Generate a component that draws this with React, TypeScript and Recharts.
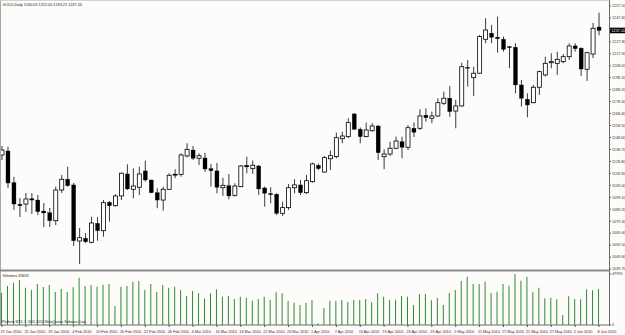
import React from 'react';
import { Bar, BarChart, ComposedChart, ReferenceLine, XAxis, YAxis } from 'recharts';

// GOLD daily, 19 Jan 2010 .. 8 Jun 2010 (one value per trading day)
const OPEN = [
  1134.1, 1137.4, 1111.2, 1093.3, 1093.5, 1097.9, 1096.8, 1087.7, 1086.3, 1079.7,
  1105.1, 1114.0, 1109.3, 1062.9, 1065.1, 1061.8, 1077.5, 1071.4, 1094.9, 1092.1,
  1100.2, 1118.4, 1105.7, 1107.4, 1120.9, 1113.4, 1102.9, 1096.8, 1105.7, 1117.5,
  1118.1, 1133.3, 1138.2, 1131.4, 1131.6, 1122.8, 1120.9, 1107.0, 1108.7, 1100.7,
  1107.9, 1125.6, 1122.8, 1125.0, 1106.8, 1102.1, 1101.6, 1085.8, 1090.5, 1107.0,
  1109.3, 1102.9, 1112.0, 1125.6, 1120.0, 1131.0, 1132.7, 1147.6, 1149.3, 1168.1,
  1155.4, 1149.3, 1154.2, 1158.1, 1132.7, 1134.9, 1139.7, 1145.1, 1140.5, 1156.2,
  1156.2, 1167.0, 1164.5, 1166.4, 1176.9, 1181.1, 1170.5, 1174.7, 1206.7, 1198.1,
  1201.8, 1229.9, 1234.9, 1231.6, 1229.9, 1223.8, 1223.3, 1192.1, 1180.2, 1177.4,
  1190.2, 1200.4, 1210.5, 1210.0, 1211.4, 1215.5, 1224.4, 1222.5, 1205.1, 1217.7,
  1240.05,
];
const HIGH = [
  1141.6, 1141.0, 1116.1, 1098.5, 1102.6, 1102.6, 1101.0, 1094.4, 1090.2, 1107.9,
  1117.5, 1124.4, 1110.9, 1073.7, 1069.5, 1083.0, 1082.8, 1096.8, 1096.0, 1101.6,
  1119.5, 1126.4, 1123.1, 1124.4, 1129.4, 1113.6, 1106.5, 1107.9, 1119.0, 1122.3,
  1135.5, 1143.8, 1141.6, 1135.5, 1135.8, 1126.7, 1127.5, 1115.1, 1118.4, 1110.7,
  1125.8, 1132.7, 1129.4, 1125.8, 1107.9, 1107.4, 1102.4, 1095.4, 1110.1, 1114.0,
  1113.4, 1117.5, 1127.7, 1127.0, 1133.3, 1137.7, 1152.6, 1153.4, 1164.5, 1168.6,
  1156.9, 1160.9, 1160.4, 1158.9, 1138.8, 1145.1, 1149.3, 1149.3, 1158.9, 1161.0,
  1172.0, 1172.8, 1170.0, 1181.1, 1186.5, 1191.2, 1179.7, 1210.5, 1212.8, 1207.2,
  1233.5, 1247.3, 1241.8, 1248.6, 1232.1, 1224.4, 1226.6, 1196.2, 1185.2, 1192.1,
  1203.9, 1215.5, 1218.3, 1219.6, 1217.7, 1226.6, 1226.6, 1223.3, 1219.6, 1243.4,
  1252.0,
];
const LOW = [
  1130.0, 1106.8, 1088.6, 1082.8, 1086.9, 1085.3, 1084.4, 1074.5, 1074.5, 1076.1,
  1102.6, 1107.9, 1058.8, 1043.8, 1061.2, 1061.0, 1063.1, 1066.5, 1078.9, 1091.3,
  1096.8, 1105.1, 1098.3, 1101.0, 1112.0, 1102.4, 1090.0, 1088.0, 1105.1, 1114.8,
  1116.1, 1132.2, 1130.0, 1125.8, 1120.0, 1107.9, 1102.4, 1100.2, 1097.4, 1099.6,
  1107.4, 1119.0, 1118.4, 1101.0, 1091.3, 1094.1, 1084.4, 1083.6, 1088.6, 1102.4,
  1101.0, 1101.8, 1111.2, 1121.7, 1119.4, 1121.7, 1131.4, 1143.8, 1147.9, 1154.8,
  1143.8, 1148.8, 1153.4, 1130.0, 1122.3, 1133.3, 1138.8, 1131.4, 1138.2, 1149.0,
  1154.8, 1161.7, 1160.4, 1165.8, 1175.5, 1165.8, 1156.2, 1174.1, 1190.7, 1183.0,
  1201.2, 1226.6, 1226.6, 1218.8, 1219.6, 1205.9, 1185.2, 1174.1, 1165.3, 1176.9,
  1183.8, 1199.0, 1205.9, 1200.4, 1210.0, 1212.8, 1219.6, 1199.5, 1195.4, 1214.4,
  1233.25,
];
const CLOSE = [
  1138.2, 1110.9, 1093.5, 1092.1, 1097.7, 1096.8, 1087.2, 1086.1, 1079.7, 1105.1,
  1114.0, 1108.7, 1063.1, 1065.6, 1062.3, 1077.8, 1071.4, 1094.6, 1092.1, 1100.2,
  1119.0, 1106.0, 1108.4, 1118.4, 1113.4, 1102.9, 1096.8, 1105.7, 1117.3, 1118.1,
  1134.1, 1138.8, 1131.4, 1133.5, 1122.5, 1121.1, 1107.4, 1109.0, 1100.2, 1108.4,
  1125.0, 1124.2, 1125.6, 1106.0, 1102.4, 1101.2, 1085.8, 1090.5, 1107.0, 1109.3,
  1102.9, 1112.8, 1126.7, 1122.8, 1131.9, 1133.5, 1148.4, 1149.8, 1160.9, 1155.4,
  1149.3, 1154.8, 1158.1, 1136.0, 1134.9, 1139.7, 1145.7, 1140.5, 1156.7, 1153.0,
  1166.4, 1165.0, 1166.4, 1177.4, 1181.1, 1170.0, 1174.7, 1207.2, 1205.9, 1201.8,
  1232.1, 1237.6, 1231.6, 1230.4, 1221.6, 1222.9, 1192.1, 1181.1, 1175.5, 1190.2,
  1203.1, 1210.0, 1211.4, 1213.3, 1215.5, 1224.4, 1222.1, 1205.3, 1218.8, 1239.0,
  1237.2,
];
const VOLUME = [
  30400, 36700, 39800, 42350, 35100, 32940, 38580, 35760, 37640, 31050,
  33880, 31050, 35480, 44510, 36700, 37640, 36040, 37920, 38580, 17880,
  36040, 36700, 40750, 41400, 32940, 38580, 31050, 37640, 35100, 36040,
  32940, 27290, 31990, 29830, 24900, 29830, 33590, 26630, 27290, 24470,
  26630, 25690, 22870, 24470, 26630, 23530, 30770, 29830, 22870, 20980,
  18820, 20980, 23530, 1500, 16000, 22870, 22580, 23530, 21640, 23530,
  23530, 24470, 21360, 29830, 26630, 23530, 23810, 27290, 26630, 18820,
  28890, 29450, 23240, 25410, 18820, 30110, 32940, 41400, 45450, 38580,
  38580, 40750, 30110, 31340, 38580, 36980, 47995, 41690, 45450, 30770,
  35100, 25120, 25690, 24180, 9410, 27010, 24470, 24180, 33590, 32650,
  33659,
];

const PRICE_TICKS = [
  1039.7, 1049.6, 1059.5, 1069.4, 1079.3, 1089.2, 1099.1, 1109.0, 1118.9, 1128.8,
  1138.7, 1148.6, 1158.5, 1168.4, 1178.3, 1188.2, 1198.1, 1208.0, 1217.9, 1227.8,
  1237.7, 1247.6, 1257.5,
];
const VOLUME_TICKS = [0, 47995];
const DATE_TICKS = [0, 4, 8, 12, 16, 20, 24, 28, 32, 36, 40, 44, 48, 52, 56, 60, 64, 68, 72, 76, 80, 84, 88, 92, 96, 100];
const DATE_LABELS = [
  '19 Jan 2010', '25 Jan 2010', '29 Jan 2010', '4 Feb 2010', '10 Feb 2010', '16 Feb 2010',
  '22 Feb 2010', '26 Feb 2010', '4 Mar 2010', '10 Mar 2010', '16 Mar 2010', '22 Mar 2010',
  '26 Mar 2010', '1 Apr 2010', '7 Apr 2010', '13 Apr 2010', '19 Apr 2010', '23 Apr 2010',
  '29 Apr 2010', '5 May 2010', '11 May 2010', '17 May 2010', '21 May 2010', '27 May 2010',
  '2 Jun 2010', '8 Jun 2010',
];

const SYMBOL = 'GOLD,Daily';
const COPYRIGHT = 'Platform MT4, \u00a9 2001-2010 MetaQuotes Software Corp.';

const FONT = '"Liberation Sans", Arial, sans-serif';
const FS = 3.8;
const X_DOMAIN: [number, number] = [-0.335, 101.67];
const PRICE_DOMAIN: [number, number] = [1039.7, 1261.6];

const last = CLOSE.length - 1;

const candles = OPEN.map((o, i) => ({
  i,
  open: o,
  high: HIGH[i],
  low: LOW[i],
  close: CLOSE[i],
  range: [LOW[i], HIGH[i]],
}));

const volumes = VOLUME.map((v, i) => ({ i, volume: v }));

const Candle = (props: any) => {
  const { x, y, width, height, payload } = props;
  if (x == null || y == null || !payload) return null;
  const { open, close, high, low } = payload;
  const top0 = Math.min(y, y + height);
  const h = Math.abs(height);
  const k = high === low ? 0 : h / (high - low);
  const yAt = (v: number) => top0 + (high - v) * k;
  const cx = x + width / 2;
  const up = close >= open;
  const bTop = yAt(Math.max(open, close));
  const bBot = yAt(Math.min(open, close));
  return (
    <g>
      <line x1={cx} x2={cx} y1={top0} y2={top0 + h} stroke='#3a3a3a' strokeWidth={1} />
      <rect
        x={cx - 2}
        y={bTop}
        width={4}
        height={Math.max(bBot - bTop, 0.8)}
        fill={up ? '#ffffff' : '#000000'}
        stroke='#000000'
        strokeWidth={up ? 0.8 : 0.3}
      />
    </g>
  );
};

const PriceTag = (props: any) => {
  const vb = props.viewBox;
  if (!vb) return null;
  const x = vb.x + vb.width;
  return (
    <g>
      <rect x={x + 0.5} y={vb.y - 2.8} width={16} height={5.6} fill='#000' />
      <text x={x + 2.5} y={vb.y + 1.3} fontSize={FS} fill='#fff' fontFamily={FONT}>
        {CLOSE[last].toFixed(2)}
      </text>
    </g>
  );
};

const DateTick = (props: any) => {
  const { x, y, payload } = props;
  const label = DATE_LABELS[DATE_TICKS.indexOf(payload.value)];
  return (
    <text x={x - 1.5} y={y + 6} fontSize={FS} fill='#333' fontFamily={FONT}>
      {label}
    </text>
  );
};

export default function App() {
  const axisText = { fontSize: FS, fill: '#333', fontFamily: FONT };
  return (
    <div style={{ position: 'relative', width: 625, height: 335, background: '#fefcfb', overflow: 'hidden' }}>
      <style>{'body{margin:0}'}</style>

      {/* main window: candles */}
      <div style={{ position: 'absolute', left: 0, top: 0 }}>
        <ComposedChart width={625} height={270} data={candles} margin={{ top: 1, right: 0, bottom: 1, left: 0 }}>
          <XAxis dataKey='i' type='number' domain={X_DOMAIN} allowDataOverflow hide />
          <YAxis
            orientation='right'
            width={16}
            domain={PRICE_DOMAIN}
            allowDataOverflow
            ticks={PRICE_TICKS}
            interval={0}
            tickSize={2}
            tickMargin={1}
            axisLine={false}
            tickLine={{ stroke: '#555' }}
            tick={axisText}
            tickFormatter={(v: number) => v.toFixed(2)}
          />
          <Bar dataKey='range' barSize={4} shape={<Candle />} isAnimationActive={false} />
          <ReferenceLine y={CLOSE[last]} stroke='none' label={<PriceTag />} />
        </ComposedChart>
      </div>

      {/* volume window */}
      <div style={{ position: 'absolute', left: 0, top: 270 }}>
        <BarChart width={625} height={65} data={volumes} margin={{ top: 4, right: 0, bottom: 0, left: 0 }}>
          <XAxis
            dataKey='i'
            type='number'
            domain={X_DOMAIN}
            allowDataOverflow
            ticks={DATE_TICKS}
            interval={0}
            height={10}
            tickSize={2}
            tickMargin={0}
            axisLine={{ stroke: '#6a6a6a' }}
            tickLine={{ stroke: '#555' }}
            tick={<DateTick />}
          />
          <YAxis
            orientation='right'
            width={16}
            domain={[0, VOLUME_TICKS[1]]}
            allowDataOverflow
            ticks={VOLUME_TICKS}
            interval={0}
            tickSize={2}
            tickMargin={1}
            axisLine={false}
            tickLine={{ stroke: '#555' }}
            tick={axisText}
          />
          <Bar dataKey='volume' barSize={1} fill='#2f8a2f' isAnimationActive={false} />
        </BarChart>
      </div>

      {/* frame and captions */}
      <svg width={625} height={335} style={{ position: 'absolute', left: 0, top: 0, pointerEvents: 'none' }}>
        <rect x={0} y={0} width={1} height={326} fill='#a8a8a8' />
        <rect x={0} y={0} width={610} height={0.8} fill='#c8c8c8' />
        <rect x={0} y={269.5} width={610} height={2} fill='#8a8a8a' />
        <rect x={609} y={0} width={1} height={326} fill='#6a6a6a' />
        <text x={2.5} y={5.5} fontSize={FS} fill='#222' fontFamily={FONT}>
          {`${SYMBOL}  ${OPEN[last].toFixed(2)} ${HIGH[last].toFixed(2)} ${LOW[last].toFixed(2)} ${CLOSE[last].toFixed(2)}`}
        </text>
        <text x={2.5} y={276.5} fontSize={FS} fill='#222' fontFamily={FONT}>
          {`Volumes ${VOLUME[last]}`}
        </text>
        <text x={2} y={323} fontSize={3.4} fill='#222' fontFamily={FONT}>
          {COPYRIGHT}
        </text>
      </svg>
    </div>
  );
}
